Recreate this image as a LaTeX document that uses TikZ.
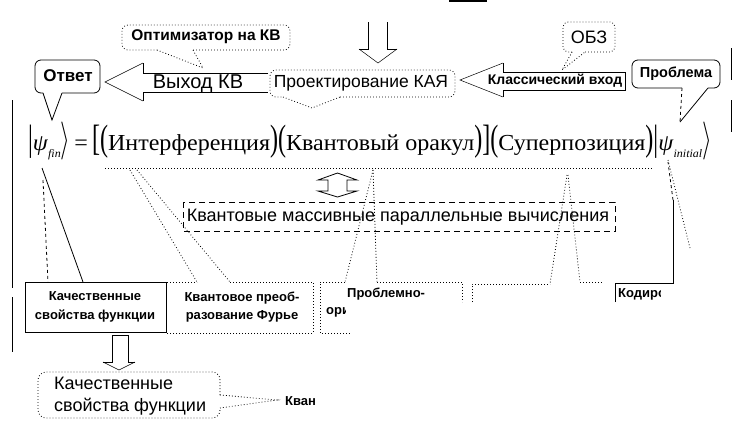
\documentclass[tikz,border=0pt]{standalone}
\usepackage{graphicx}
\usepackage{fontspec}
\newfontfamily\sansf{Liberation Sans}
\newfontfamily\seriff{Liberation Serif}
\newcommand{\tallx}[1]{\scalebox{1}[1.6]{#1}}
\tikzset{
  ln/.style={line width=0.8pt},
  thinln/.style={line width=0.5pt},
  dotln/.style={line width=0.8pt, dash pattern=on 0.8pt off 2.2pt},
  dashln/.style={line width=0.8pt, dash pattern=on 6pt off 4pt},
  lbl/.style={font=\sansf\fontsize{18}{20}\selectfont, inner sep=0pt},
  blbl/.style={font=\sansf\bfseries\fontsize{15.5}{17}\selectfont, inner sep=0pt, align=center},
  sblbl/.style={font=\sansf\bfseries\fontsize{13}{18.5}\selectfont, inner sep=0pt, align=center},
}
\begin{document}
\begin{tikzpicture}[x=1pt,y=-1pt]
\useasboundingbox (0,0) rectangle (737,440);
% top bar
\draw[line width=1.5pt] (449,1) -- (487,1);
% down block arrow
\draw[ln] (368,22) -- (368,49) -- (359,49);
\draw[thinln] (359,49) -- (378,63) -- (397,49);
\draw[ln] (397,49) -- (387,49) -- (387,22);
% Projecting box
\node[lbl, font=\sansf\fontsize{17.5}{20}\selectfont] (proj) at (361,83) {Проектирование КАЯ};
\draw[dotln, rounded corners=6] (340,97) -- (455,97) -- (455,70) -- (270,70) -- (270,97) -- (283,97);
\draw[dotln] (283,97) -- (312,108) -- (340,97);
% Optimizer callout
\node[blbl] (opt) at (206,37) {Оптимизатор на КВ};
\draw[dotln, rounded corners=6] (193,50) -- (290,50) -- (290,25) -- (122,25) -- (122,50) -- (157,50);
\draw[dotln] (157,50) -- (203,68) -- (193,50);
% Vyhod KV arrow
\draw[ln] (268,73) -- (143,73) -- (143,63);
\draw[thinln] (143,63) -- (105,82) -- (143,101);
\draw[ln] (143,101) -- (143,92) -- (268,92);
\node[lbl, font=\sansf\fontsize{20}{22}\selectfont] (vyh) at (198,84) {Выход КВ};
% Otvet callout
\node[blbl, font=\sansf\bfseries\fontsize{17}{19}\selectfont] (otv) at (68,76) {Ответ};
\draw[ln, rounded corners=6] (62,93) -- (100,93) -- (100,60) -- (35,60) -- (35,93) -- (43,93);
\draw[ln] (43,93) -- (52,120) -- (62,93);
% OBZ callout
\node[lbl] (obz) at (589,37) {ОБЗ};
\draw[dotln, rounded corners=5] (585,52) -- (615,52) -- (615,22) -- (563,22) -- (563,52) -- (572,52);
\draw[dotln] (572,52) -- (562,70) -- (585,52);
% Classical input arrow
\draw[ln] (503,63) -- (503,72) -- (625,72) -- (625,90) -- (503,90) -- (503,97);
\draw[thinln] (503,63) -- (460,80) -- (503,97);
\node[blbl, font=\sansf\bfseries\fontsize{14}{16}\selectfont] (klass) at (555,81) {Классический вход};
% Problema callout
\node[blbl, font=\sansf\bfseries\fontsize{14.5}{17}\selectfont] (probl) at (676,74) {Проблема};
\draw[ln, rounded corners=6] (708,88) -- (720,88) -- (720,60) -- (632,60) -- (632,88) -- (682,88);
\draw[ln, dashed] (682,88) -- (680,122);
\draw[ln] (680,122) -- (708,88);
% side lines
\draw[ln] (731,48) -- (731,80);
\draw[ln] (731,100) -- (731,132);
\draw[ln] (12,100) -- (12,288);
\draw[ln] (12,297) -- (12,352);
% formula
\node[inner sep=0pt, font=\seriff\fontsize{24}{28}\selectfont] (form) at (370,141)
 {\resizebox*{684pt}{38pt}{\tallx{|}\textit{ψ}\raisebox{-0.3em}{\fontsize{12}{12}\selectfont\textit{fin}}\tallx{$\rangle$}\,=\,\tallx{[}\tallx{(}Интерференция\tallx{)}\tallx{(}Квантовый оракул\tallx{)}\tallx{]}\tallx{(}Суперпозиция\tallx{)}\tallx{|}\textit{ψ}\raisebox{-0.3em}{\fontsize{12}{12}\selectfont\textit{initial}}\tallx{$\rangle$}}};
% dotted line under formula
\draw[dotln] (105,168) -- (653,168);
% small double arrow
\draw[ln] (328,191) -- (328,180) -- (318,180) -- (337.5,173) -- (357,180) -- (347,180) -- (347,191) -- (357,191) -- (337.5,197) -- (318,191) -- cycle;
% massive parallel box
\node[lbl] (mass) at (398,217) {Квантовые массивные параллельные вычисления};
\draw[dashln] (183,202) rectangle (615,231);
% Kachestvennye box
\node[sblbl] (kach) at (95,307) {Качественные\\свойства функции};
\draw[ln] (25,282) rectangle (166,332);
\draw[ln] (42,168) -- (83,282);
\draw[ln, dashed] (43,180) -- (48,282);
% Fourier box
\node[sblbl] (four) at (242,307) {Квантовое преоб-\\разование Фурье};
\draw[dotln] (167,282) -- (197,282);
\draw[dotln] (230,282) -- (313,282) -- (313,333) -- (167,333);
\draw[dotln] (130,170) -- (197,282);
\draw[dotln] (137,170) -- (230,282);
% Problemno box
\begin{scope}
\clip (318,270) rectangle (470,302) (318,270) rectangle (345,330);
\node[sblbl, anchor=west] (probn) at (347,294) {Проблемно-};
\node[sblbl, anchor=west] (probn2) at (326,312) {ориентированные};
\end{scope}
\draw[dotln] (345,282) -- (320,282) -- (320,333) -- (350,333);
\draw[dotln] (377,282) -- (462,282) -- (462,302);
\draw[dotln] (373,170) -- (345,282);
\draw[dotln] (373,170) -- (377,282);
% fourth box
\draw[dotln] (472,302) -- (472,284) -- (550,284);
\draw[dotln] (580,282) -- (603,282);
\draw[dotln] (567,175) -- (550,284);
\draw[dotln] (568,175) -- (580,282);
% Kodir box
\begin{scope}
\clip (614,270) rectangle (660,302);
\node[sblbl, anchor=west] (kod) at (618,294) {Кодирование};
\end{scope}
\draw[ln] (615,302) -- (615,283) -- (673,283) -- (673,200);
\draw[ln, dashed] (673,200) -- (668,162);
\draw[dotln] (668,160) -- (690,248);
% bottom arrow
\draw[ln] (103,362) -- (112,362) -- (112,335) -- (128,335) -- (128,362) -- (135,362);
\draw[thinln] (135,362) -- (119,370) -- (103,362);
% bottom callout
\node[lbl, align=left, anchor=west, font=\sansf\fontsize{18}{22}\selectfont] (kach2) at (54,396) {Качественные\\свойства функции};
\draw[dotln, rounded corners=8] (220,395) -- (220,372) -- (38,372) -- (38,418) -- (220,418) -- (220,408);
\draw[dotln] (220,395) -- (277,400) -- (220,408);
\begin{scope}
\clip (280,385) rectangle (314,415);
\node[sblbl, anchor=west] (kv) at (285,401) {Квантовое};
\end{scope}
\end{tikzpicture}
\end{document}
